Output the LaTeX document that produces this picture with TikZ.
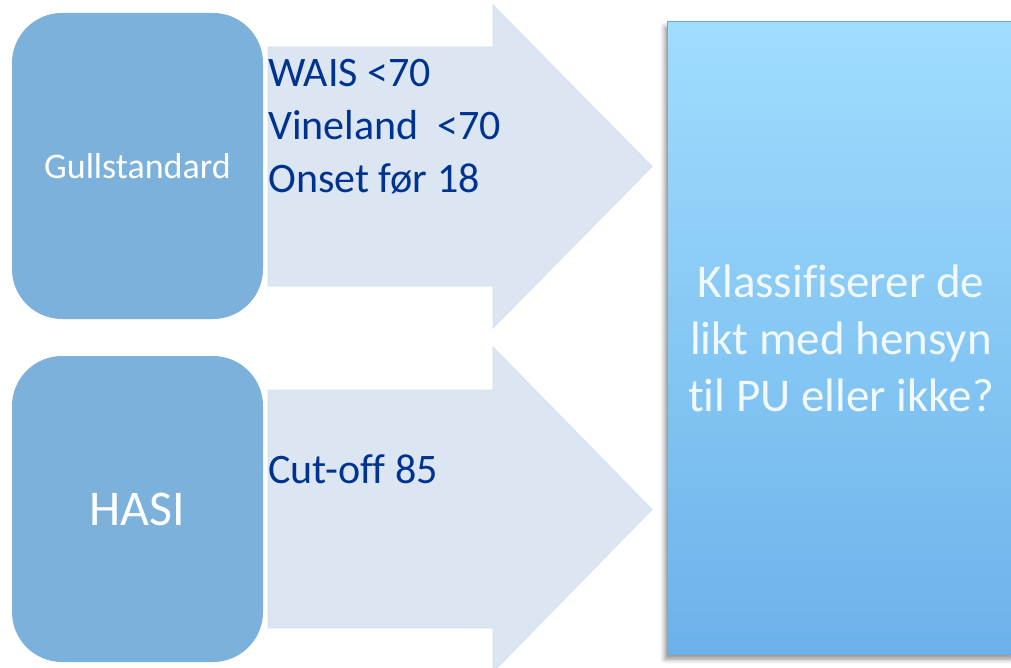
\documentclass[tikz,border=0pt]{standalone}
\usepackage{fontspec}
\setmainfont{Carlito}[Ligatures=NoCommon]
\usetikzlibrary{shadows.blur}
\definecolor{boxblue}{HTML}{7BB1DB}
\definecolor{arrowfill}{HTML}{DBE6F2}
\definecolor{arrowedge}{HTML}{D4E0EE}
\definecolor{listblue}{HTML}{00338F}
\definecolor{gradtop}{HTML}{A0DDFE}
\definecolor{gradbot}{HTML}{6CB2EA}
\definecolor{rborder}{HTML}{6FA8D8}
\definecolor{restext}{HTML}{F2F9FE}
\begin{document}
\begin{tikzpicture}[x=1pt,y=-1pt,
  srcbox/.style={rectangle, fill=boxblue, draw=none, rounded corners=50pt,
    minimum width=251pt, minimum height=306pt, inner sep=0pt, text=white},
  bigarrow/.style={fill=arrowfill, draw=arrowedge, line width=0.8pt},
  listtext/.style={anchor=base west, inner sep=0pt, text=listblue,
    font=\fontsize{42}{53}\selectfont},
  resbox/.style={rectangle, minimum width=348pt, minimum height=632pt,
    top color=gradtop, bottom color=gradbot, draw=rborder, line width=1pt,
    blur shadow={shadow xshift=-2pt, shadow yshift=-5pt, shadow blur radius=5pt, shadow opacity=45},
    text=restext, align=center, font=\fontsize{47}{57}\selectfont}
]
\useasboundingbox (0,0) rectangle (1011,668);
\clip (0,0) rectangle (1011,668);

% result box
\node[resbox] (res) at (841,338) {Klassifiserer de\\likt med hensyn\\til PU eller ikke?};

% block arrows
\coordinate (a1) at (268,47);
\path[bigarrow] (a1) -- (493,47) -- (493,5) -- (652,166.5) -- (493,328) -- (493,286) -- (268,286) -- cycle;
\path[bigarrow] (268,390) -- (493,390) -- (493,347) -- (652,509.5) -- (493,672) -- (493,628) -- (268,628) -- cycle;

% source boxes
\node[srcbox, font=\fontsize{36}{43}\selectfont] (gull) at (137.5,166) {Gullstandard};
\node[srcbox, font=\fontsize{50}{60}\selectfont] (hasi) at (137.5,509) {HASI};

% list texts
\node[listtext] (wais) at (268,87) {WAIS <70};
\node[listtext] (vine) at (268,140) {Vineland\ \ <70};
\node[listtext] (onset) at (268,193) {Onset før 18};
\node[listtext] (cut) at (268,483) {Cut-off 85};
\end{tikzpicture}
\end{document}
